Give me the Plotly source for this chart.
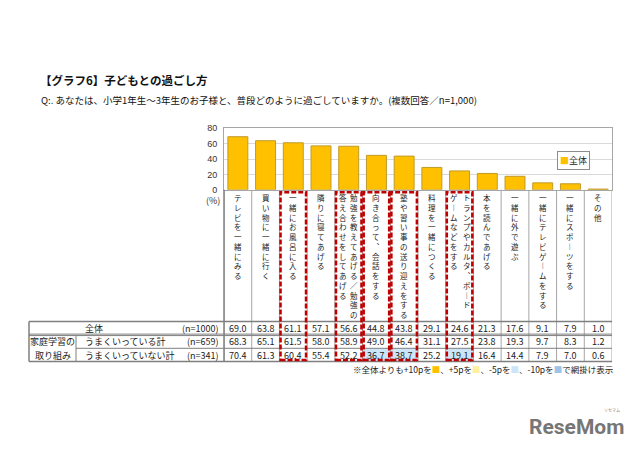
import plotly.graph_objects as go

W, H = 640, 456

# ---------------- data ----------------
categories = [
    "テレビを一緒にみる", "買い物に一緒に行く", "一緒にお風呂に入る", "隣りに寝てあげる",
    "勉強を教えてあげる／勉強の答え合わせをしてあげる", "向き合って、会話をする",
    "塾や習い事の送り迎えをする", "料理を一緒につくる",
    "トランプやカルタ、ボードゲームなどをする", "本を読んであげる", "一緒に外で遊ぶ",
    "一緒にテレビゲームをする", "一緒にスポーツをする", "その他",
]
label_breaks = {4: 13, 8: 12}          # vertical label split into two columns
total = [69.0, 63.8, 61.1, 57.1, 56.6, 44.8, 43.8, 29.1, 24.6, 21.3, 17.6, 9.1, 7.9, 1.0]
good = [68.3, 65.1, 61.5, 58.0, 58.9, 49.0, 46.4, 31.1, 27.5, 23.8, 19.3, 9.7, 8.3, 1.2]
notgood = [70.4, 61.3, 60.4, 55.4, 52.2, 36.7, 38.7, 25.2, 19.1, 16.4, 14.4, 7.9, 7.0, 0.6]
row_labels = ["全体", "うまくいっている計", "うまくいっていない計"]
row_ns = ["(n=1000)", "(n=659)", "(n=341)"]
group_label = ["家庭学習の", "取り組み"]
boxed = [2, 4, 5, 6, 8]
yticks = [0, 20, 40, 60, 80]

title = "【グラフ6】子どもとの過ごし方"
question = "Q:. あなたは、小学1年生～3年生のお子様と、普段どのように過ごしていますか。(複数回答／n=1,000)"
footnote = ("※全体よりも+10pを<span style='color:#FFC000'>■</span>、+5pを<span style='color:#FFF0A0'>■</span>、"
            "-5pを<span style='color:#CDE6F7'>■</span>、-10pを<span style='color:#9DC3E6'>■</span>で網掛け表示")

# ---------------- layout helpers ----------------
def px(x):
    return x / W

def py(y):
    return 1 - y / H

FONT = "Noto Sans CJK JP, sans-serif"
X0, X1 = 224, 612
Y_TOP, Y_BASE = 126, 189
TBL_TOP, R1B, R2T, R2B, TBL_BOT = 323.5, 337, 338.5, 351, 364.5
TBL_LEFT, GRP_RIGHT = 29, 76
n = len(categories)
col_offsets = {4: (0.19, -0.19), 8: (0.25, -0.2)}

fig = go.Figure()
fig.add_trace(go.Bar(
    x=list(range(n)), y=total, name="全体", width=0.72,
    marker=dict(color="#FFC000", line=dict(color="#C09A2A", width=1)),
    showlegend=False,
))

shapes = []
annotations = []

# highlighted cells (derived from difference to 全体)
def cell_color(d):
    if d >= 10:
        return "#FFC000"
    if d >= 5:
        return "#FFF0A0"
    if d <= -10:
        return "#9DC3E6"
    if d <= -5:
        return "#CDE6F7"
    return None

row_bounds = [(TBL_TOP, R1B), (R2T, R2B), (R2B, TBL_BOT)]
rows = [total, good, notgood]
for r in (1, 2):
    for i in range(n):
        c = cell_color(rows[r][i] - total[i])
        if c:
            y0, y1 = row_bounds[r]
            shapes.append(dict(type="rect", xref="x", yref="paper", x0=i - 0.5, x1=i + 0.5,
                               y0=py(y1), y1=py(y0), fillcolor=c, line=dict(width=0)))

GRID = "#A6A6A6"
TL = "#7F7F7F"
# column separators in label area + table
for i in range(n + 1):
    shapes.append(dict(type="line", xref="x", yref="paper", x0=i - 0.5, x1=i - 0.5,
                       y0=py(Y_BASE), y1=py(TBL_BOT), line=dict(color=GRID, width=1)))
# table horizontal lines
shapes.append(dict(type="line", xref="paper", yref="paper", x0=px(TBL_LEFT), x1=px(X1),
                   y0=py(TBL_TOP), y1=py(TBL_TOP), line=dict(color=TL, width=1.5)))
for yy in (R1B - 0.5, R2T - 0.5):
    shapes.append(dict(type="line", xref="paper", yref="paper", x0=px(TBL_LEFT), x1=px(X1),
                       y0=py(yy), y1=py(yy), line=dict(color=TL, width=1)))
shapes.append(dict(type="line", xref="paper", yref="paper", x0=px(GRP_RIGHT), x1=px(X1),
                   y0=py(R2B), y1=py(R2B), line=dict(color=TL, width=1)))
shapes.append(dict(type="line", xref="paper", yref="paper", x0=px(TBL_LEFT), x1=px(X1),
                   y0=py(TBL_BOT), y1=py(TBL_BOT), line=dict(color=TL, width=1.5)))
# table vertical lines on the left
shapes.append(dict(type="line", xref="paper", yref="paper", x0=px(TBL_LEFT), x1=px(TBL_LEFT),
                   y0=py(TBL_TOP), y1=py(TBL_BOT), line=dict(color=TL, width=1.5)))
shapes.append(dict(type="line", xref="paper", yref="paper", x0=px(GRP_RIGHT), x1=px(GRP_RIGHT),
                   y0=py(R2T), y1=py(TBL_BOT), line=dict(color=TL, width=1)))
shapes.append(dict(type="line", xref="paper", yref="paper", x0=px(X0), x1=px(X0),
                   y0=py(Y_BASE), y1=py(TBL_BOT), line=dict(color=TL, width=1.5)))

# red dashed boxes
for i in boxed:
    shapes.append(dict(type="rect", xref="x", yref="paper", x0=i - 0.46, x1=i + 0.46,
                       y0=py(363), y1=py(191.5),
                       line=dict(color="#C00000", width=2.5, dash="5px,2px")))

# vertical category labels (one annotation per text column, one char per line)
VMAP = {"ー": "︱", "、": "︑"}
for i, lab in enumerate(categories):
    if i in label_breaks:
        k = label_breaks[i]
        ro, lo = col_offsets[i]
        cols = [(lab[:k], ro), (lab[k:], lo)]
    else:
        cols = [(lab, 0.0)]
    for text, off in cols:
        vt = "<br>".join(VMAP.get(ch, ch) for ch in text)
        annotations.append(dict(x=i + off, y=py(190), xref="x", yref="paper",
                                text=vt, showarrow=False, xanchor="center", yanchor="top",
                                align="center", borderpad=0,
                                font=dict(family=FONT, size=7.5, color="#222")))

# table values
row_centers = [330.5, 344.5, 358]
for r, vals in enumerate(rows):
    for i, v in enumerate(vals):
        annotations.append(dict(x=i, y=py(row_centers[r]), xref="x", yref="paper",
                                text=f"{v:.1f}", showarrow=False, xanchor="center", yanchor="middle",
                                font=dict(family=FONT, size=9, color="#222")))
    annotations.append(dict(x=px(83), y=py(row_centers[r]), xref="paper", yref="paper",
                            text=row_labels[r], showarrow=False, xanchor="left", yanchor="middle",
                            font=dict(family=FONT, size=9, color="#222")))
    annotations.append(dict(x=px(221), y=py(row_centers[r]), xref="paper", yref="paper",
                            text=row_ns[r], showarrow=False, xanchor="right", yanchor="middle",
                            font=dict(family=FONT, size=9, color="#222")))
for k, t in enumerate(group_label):
    annotations.append(dict(x=px(52.5), y=py([344.5, 358][k]), xref="paper", yref="paper",
                            text=t, showarrow=False, xanchor="center", yanchor="middle",
                            font=dict(family=FONT, size=9, color="#222")))

# (%) unit
annotations.append(dict(x=px(204), y=py(200), xref="paper", yref="paper", text="(%)",
                        showarrow=False, font=dict(family=FONT, size=9, color="#333")))
# legend box
annotations.append(dict(x=px(589.5), y=py(149.5), xref="paper", yref="paper",
                        text="<span style='color:#FFC000'>■</span>全体", showarrow=False,
                        bordercolor="#8C8C8C", borderwidth=1, borderpad=2, bgcolor="white",
                        font=dict(family=FONT, size=9, color="#222")))
# titles
annotations.append(dict(x=px(38), y=py(77), xref="paper", yref="paper", text="<b>" + title + "</b>",
                        showarrow=False, xanchor="left", yanchor="middle",
                        font=dict(family=FONT, size=11.5, color="#111")))
annotations.append(dict(x=px(39), y=py(97), xref="paper", yref="paper", text=question,
                        showarrow=False, xanchor="left", yanchor="middle",
                        font=dict(family=FONT, size=9.5, color="#111")))
# footnote
annotations.append(dict(x=px(615), y=py(372), xref="paper", yref="paper", text=footnote,
                        showarrow=False, xanchor="right", yanchor="middle",
                        font=dict(family=FONT, size=8.5, color="#222")))
# logo
annotations.append(dict(x=px(576), y=py(431), xref="paper", yref="paper", text="<b>ReseMom</b>",
                        showarrow=False, xanchor="center", yanchor="middle",
                        font=dict(family="Liberation Sans Narrow, Roboto, sans-serif", size=21, color="#767676")))
annotations.append(dict(x=px(612), y=py(414), xref="paper", yref="paper", text="リセマム",
                        showarrow=False, xanchor="center", yanchor="middle",
                        font=dict(family=FONT, size=4, color="#888")))

fig.update_layout(
    width=W, height=H, margin=dict(l=0, r=0, t=0, b=0),
    paper_bgcolor="white", plot_bgcolor="white",
    shapes=shapes, annotations=annotations,
    xaxis=dict(domain=[px(X0), px(X1)], range=[-0.5, n - 0.5], showticklabels=False,
               showgrid=False, zeroline=False, showline=True, mirror=True, linecolor=GRID,
               ticks="", fixedrange=True),
    yaxis=dict(domain=[py(Y_BASE), py(Y_TOP)], range=[0, 80], tickvals=yticks,
               tickfont=dict(family="Liberation Sans, Arial, sans-serif", size=9, color="#333"),
               showgrid=True, gridcolor="#D9D9D9", zeroline=False, showline=True, mirror=True,
               linecolor=GRID, ticks="", ticklabelstandoff=4, fixedrange=True),
    showlegend=False,
)

fig.write_html("out.html")
